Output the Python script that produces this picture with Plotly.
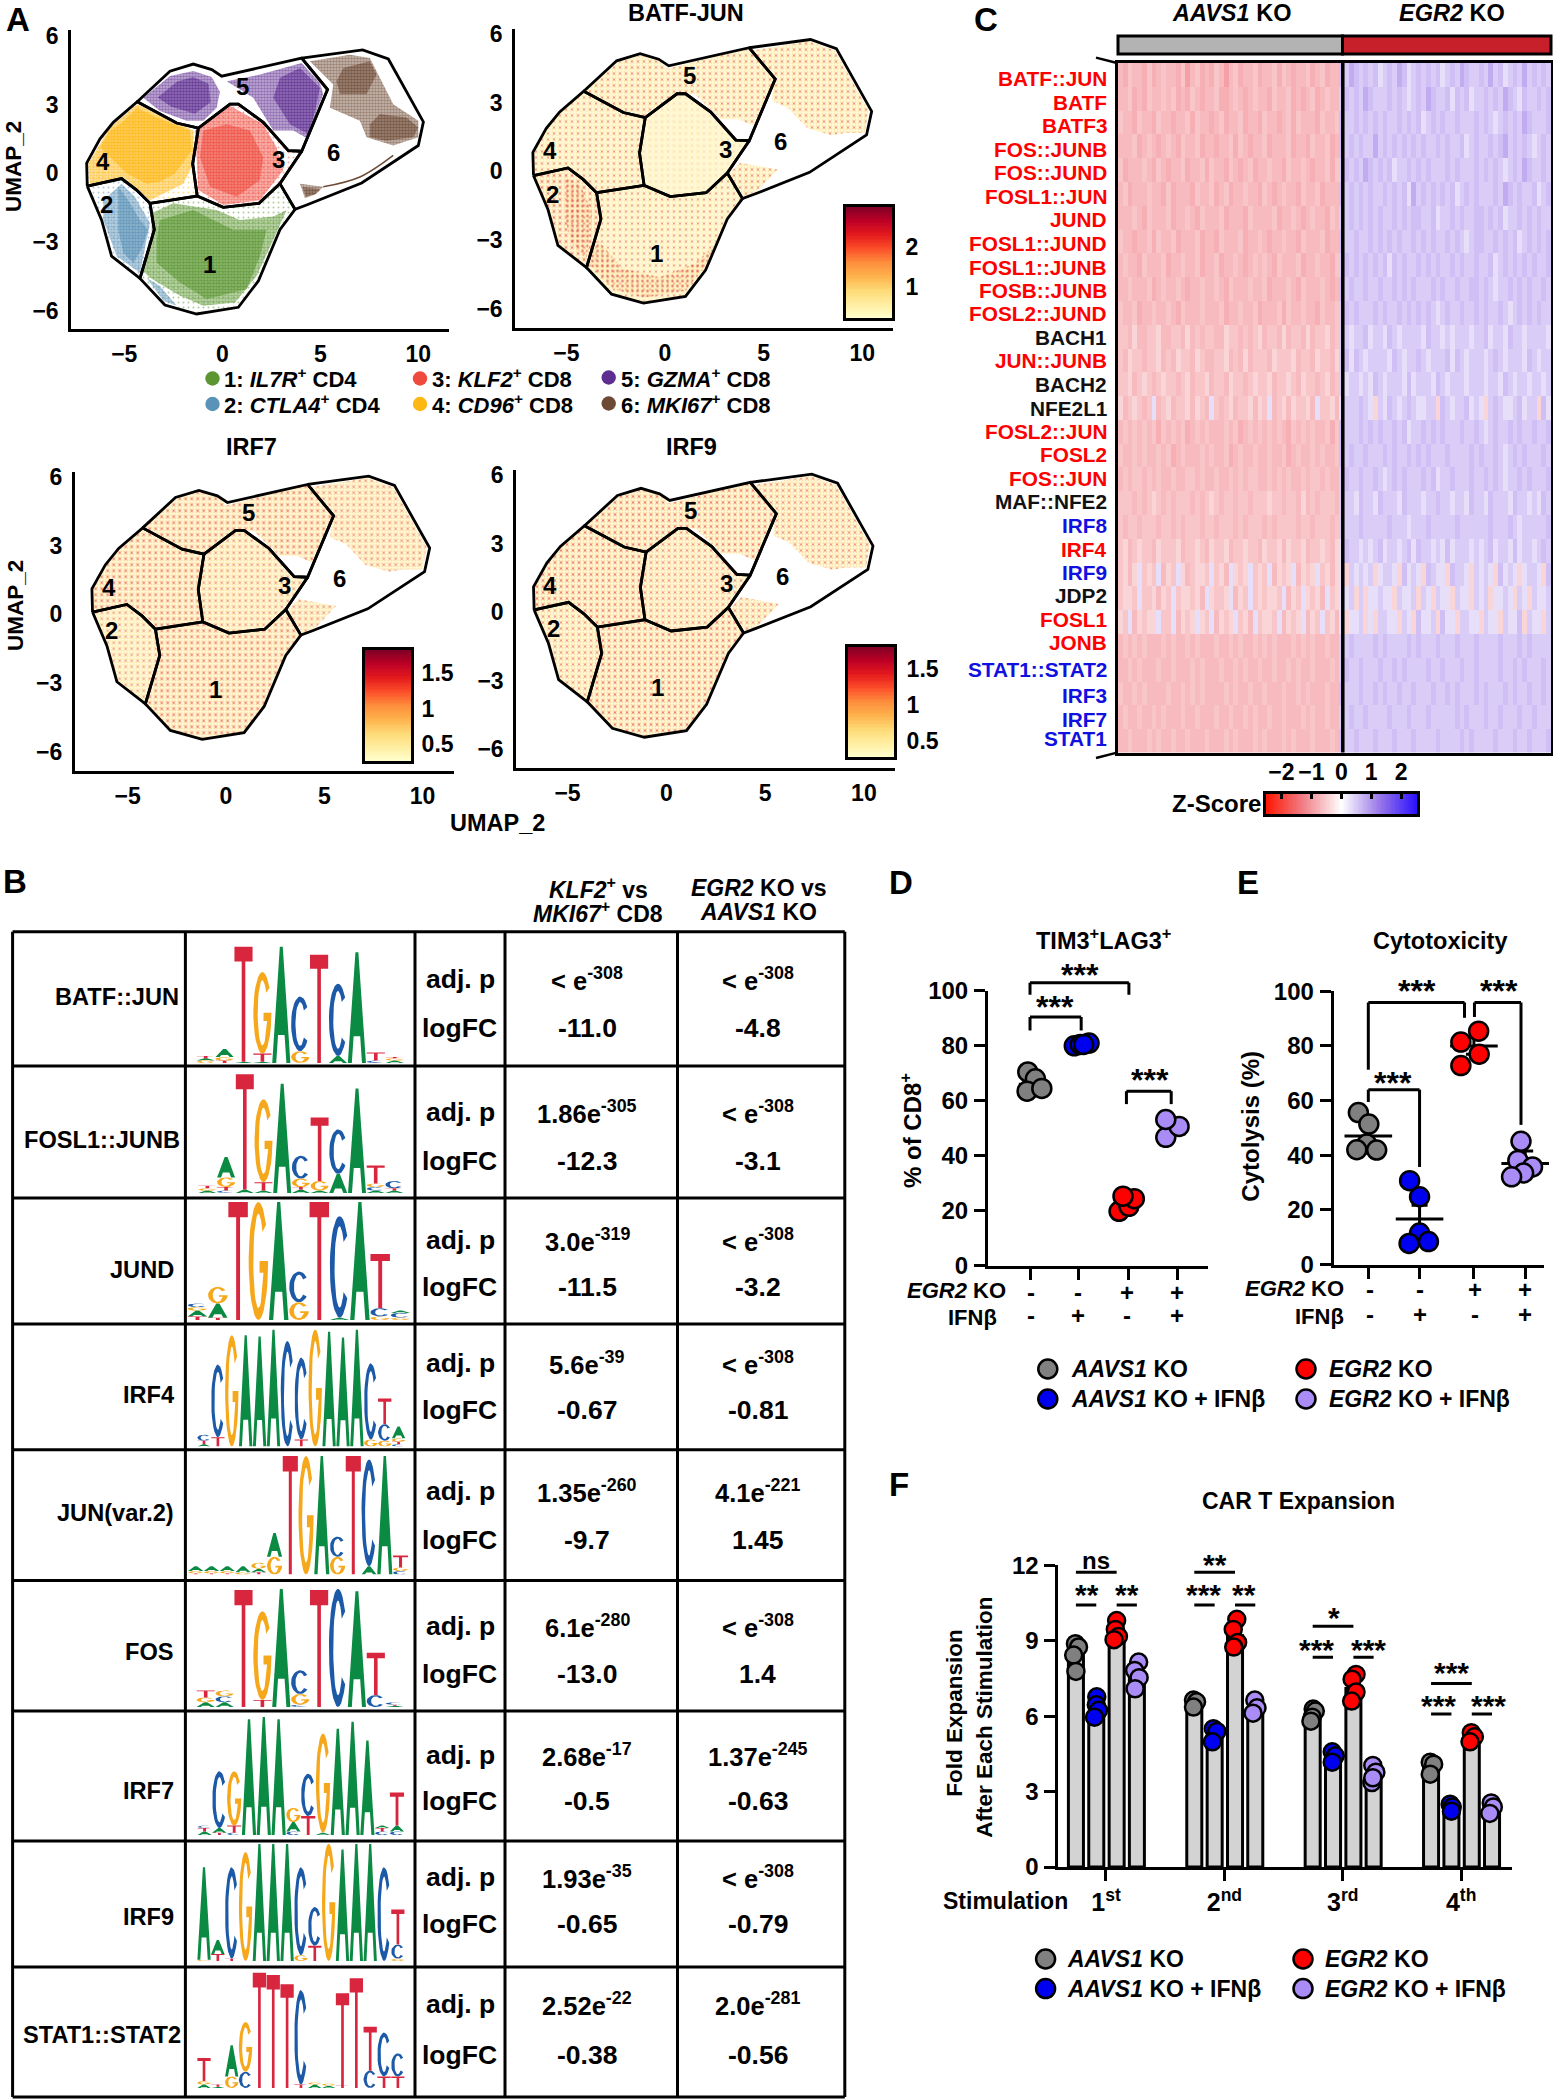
import math
import numpy as np
import plotly.graph_objects as go
from plotly.colors import sample_colorscale

W, H = 1553, 2100
FONT = "Liberation Sans"

# ---------- Panel A data (UMAP coordinates) ----------
J143 = (-3.69, -1.31); J134 = (-1.28, -0.99); J136 = (2.94, -0.45); J356 = (4.05, 0.96)
J345 = (-1.22, 1.97); J45 = (-4.34, 3.12); J56 = (4.05, 5.02); J24 = (-6.89, -0.56)
J12b = (-4.20, -4.58); J16 = (3.71, -1.57); J12m = (-3.47, -2.46)
region_1 = [J143, J134, (0.05, -1.48), (1.87, -1.31), J136, J16, (2.94, -2.46), (1.84, -4.69),
            (0.82, -5.84), (-1.31, -6.13), (-2.93, -5.74), J12b, J12m]
region_2 = [J24, (-5.14, -0.23), (-4.37, -0.73), J143, J12m, J12b, (-5.65, -3.61), (-6.16, -2.03)]
region_3 = [J345, (0.39, 3.01), (0.82, 3.01), (2.09, 2.22), (3.37, 0.99), J356, J136, (1.87, -1.31),
            (0.05, -1.48), J134, (-1.51, 0.42)]
region_4 = [J24, (-6.92, 0.45), (-6.24, 1.50), (-5.56, 2.22), J45, (-2.33, 2.19), J345, (-1.51, 0.42),
            J134, J143, (-4.37, -0.73), (-5.14, -0.23)]
region_5 = [J45, (-2.67, 4.45), (-1.48, 4.76), (-0.54, 4.52), (-0.03, 4.23), J56, (5.37, 3.65), J356,
            (3.37, 0.99), (2.09, 2.22), (0.82, 3.01), (0.39, 3.01), J345, (-2.33, 2.19)]
region_6 = [J56, (7.16, 5.38), (8.47, 4.98), (10.26, 2.24), (10.0, 1.21), (7.11, -0.42), (4.30, -1.38),
            J16, J136, J356, (5.37, 3.65)]
regions = [region_1, region_2, region_3, region_4, region_5, region_6]
region_labels = [(-0.63, -3.97), (-5.9, -1.38), (2.86, 0.59), (-6.07, 0.52), (1.02, 3.8), (5.66, 0.92)]

cloud_sparse = [
    (1, [(-3.61, -1.74), (-2.5, -1.31), (-0.29, -1.6), (0.9, -2.03), (2.6, -1.88), (3.28, -1.6), (2.6, -2.89),
         (1.75, -4.47), (0.65, -5.63), (-0.97, -5.77), (-2.16, -5.34), (-3.69, -4.55), (-4.03, -4.26), (-3.61, -2.89)]),
    (2, [(-6.07, -1.17), (-5.14, -0.45), (-4.46, -1.02), (-3.69, -2.17), (-4.03, -3.61), (-4.2, -4.33), (-5.39, -3.61), (-6.07, -2.03)]),
    (2, [(-3.86, -4.55), (-3.18, -4.91), (-2.33, -5.77), (-3.01, -5.55)]),
    (4, [(-4.34, 3.01), (-1.48, 1.86), (-1.48, 0.42), (-1.99, -0.45), (-3.69, -1.17), (-5.05, -0.16), (-6.75, -0.45), (-6.84, 0.42), (-5.73, 2.0)]),
    (3, [(0.39, 2.94), (2.09, 2.14), (2.77, 1.14), (3.11, 0.13), (1.92, -1.17), (0.05, -1.38), (-1.22, -0.73), (-1.39, 1.86)]),
    (5, [(-2.67, 4.24), (-1.48, 4.46), (-0.54, 4.2), (-0.12, 3.55), (-0.29, 2.86), (-0.97, 2.29), (-1.82, 2.29), (-3.18, 2.72), (-4.03, 3.29)]),
    (5, [(4.05, 4.81), (4.98, 3.94), (5.15, 3.44), (4.81, 2.72), (4.39, 1.5), (3.62, 1.86), (2.6, 1.86), (1.58, 3.29), (0.22, 4.01), (1.92, 4.3)]),
    (6, [(4.47, 4.88), (6.51, 5.17), (7.53, 5.02), (8.72, 3.01), (10, 2.29), (10, 1.57), (8.72, 1.21), (7.36, 1.57), (7.02, 2.29), (5.49, 2.86), (5.66, 3.87)]),
    (6, [(3.96, -0.45), (5.15, -0.59), (4.81, -0.88), (4.22, -1.09)]),
]
cloud_dense = [
    (1, [(-3.18, -2.03), (-1.48, -1.6), (0.56, -2.46), (2.26, -2.46), (1.92, -3.61), (1.24, -5.05), (-0.8, -5.48), (-2.16, -4.76), (-3.35, -3.9), (-3.35, -2.89)]),
    (2, [(-5.31, -0.59), (-4.8, -1.17), (-4.2, -2.03), (-3.78, -2.46), (-4.12, -3.32), (-4.54, -3.9), (-5.05, -3.47), (-5.31, -2.46)]),
    (4, [(-4.34, 2.86), (-3.35, 2.43), (-1.65, 1.86), (-1.56, 0.99), (-2.41, -0.01), (-3.18, -0.37), (-3.86, -0.45), (-4.88, -0.01), (-5.73, 0.71), (-6.24, 1.14), (-5.73, 1.86), (-5.22, 2.14)]),
    (3, [(0.22, 2.14), (1.41, 1.86), (2.09, 0.71), (1.92, -0.3), (0.73, -1.02), (-0.63, -0.59), (-1.14, 0.71), (-0.97, 1.86)]),
    (5, [(-2.3, 4.0), (-1.48, 4.2), (-0.7, 3.9), (-0.6, 3.1), (-1.4, 2.6), (-2.6, 2.9), (-3.3, 3.3)]),
    (5, [(3.96, 4.59), (4.98, 3.73), (4.73, 2.72), (4.39, 1.71), (3.45, 2.14), (2.6, 3.29), (2.94, 4.16)]),
    (6, [(6.17, 4.59), (7.53, 4.88), (7.87, 4.3), (7.36, 3.44), (6, 3.44), (5.83, 4.01)]),
    (6, [(8.04, 2.58), (9.4, 2.43), (10, 2), (9.74, 1.57), (8.38, 1.42), (7.53, 1.57), (7.53, 2.14)]),
    (6, [(4.1, -0.6), (5.0, -0.7), (4.7, -0.95), (4.25, -1.0)]),
]
# extent of the dots in the three activity maps, clusters 5 and 6
feature_5 = [(-4.3, 3.1), (-2.6, 4.4), (-1.5, 4.7), (-0.5, 4.5), (-0.1, 4.1), (4.0, 5.0), (5.3, 3.6), (4.3, 1.6), (3.5, 1.9),
             (2.6, 1.9), (1.3, 3.0), (0.4, 3.0), (-1.2, 2.0), (-2.3, 2.2)]
feature_6a = [(4.2, 4.9), (7.1, 5.3), (8.4, 4.9), (10.1, 2.3), (9.9, 1.3), (8.9, 1.3), (8.2, 1.2), (7.0, 1.5), (6.0, 2.4), (5.2, 2.7), (5.3, 3.6)]
feature_6b = [(3.0, -0.5), (3.6, 0.0), (5.5, -0.3), (4.5, -1.2), (3.8, -1.5)]
cluster_colors = {1: "#5B9632", 2: "#5B92B8", 3: "#EE4B3E", 4: "#FDB813", 5: "#5E2D91", 6: "#6E4A35"}
arc_x = [5.15, 7.02, 8.72]
arc_y = [-0.59, -0.16, 0.78]

batf_levels = {1: 0.95, 2: 1.5, 3: 0.7, 4: 1.05, 5: 1.2, 6: 1.25}
irf7_levels = {1: 1.0, 2: 0.8, 3: 0.9, 4: 1.0, 5: 1.0, 6: 1.0}
irf9_levels = {1: 1.0, 2: 0.9, 3: 0.95, 4: 1.0, 5: 1.0, 6: 1.0}
batf_speck = {1: 0.08, 2: 0.14, 3: 0.03, 4: 0.09, 5: 0.11, 6: 0.11}
irf7_speck = {1: 0.13, 2: 0.08, 3: 0.11, 4: 0.13, 5: 0.13, 6: 0.11}
irf9_speck = {1: 0.13, 2: 0.10, 3: 0.11, 4: 0.13, 5: 0.13, 6: 0.11}
batf_hot = [[(-4.2, -4.3), (-2.9, -5.5), (-1.3, -5.9), (0.8, -5.6), (1.84, -4.5), (2.3, -3.6), (1.3, -4.4), (-0.5, -5.0), (-2.4, -4.6), (-3.6, -3.4)],
            [(-5.3, -0.6), (-4.5, -1.0), (-3.9, -2.2), (-4.2, -4.2), (-5.0, -3.5), (-5.3, -2.3)]]

# ---------- Panel B data ----------
table_motifs = ["BATF::JUN", "FOSL1::JUNB", "JUND", "IRF4", "JUN(var.2)", "FOS", "IRF7", "IRF9", "STAT1::STAT2"]
adjp_klf2 = ["&lt; e<sup>-308</sup>", "1.86e<sup>-305</sup>", "3.0e<sup>-319</sup>", "5.6e<sup>-39</sup>", "1.35e<sup>-260</sup>",
             "6.1e<sup>-280</sup>", "2.68e<sup>-17</sup>", "1.93e<sup>-35</sup>", "2.52e<sup>-22</sup>"]
logfc_klf2 = ["-11.0", "-12.3", "-11.5", "-0.67", "-9.7", "-13.0", "-0.5", "-0.65", "-0.38"]
adjp_egr2 = ["&lt; e<sup>-308</sup>", "&lt; e<sup>-308</sup>", "&lt; e<sup>-308</sup>", "&lt; e<sup>-308</sup>", "4.1e<sup>-221</sup>",
             "&lt; e<sup>-308</sup>", "1.37e<sup>-245</sup>", "&lt; e<sup>-308</sup>", "2.0e<sup>-281</sup>"]
logfc_egr2 = ["-4.8", "-3.1", "-3.2", "-0.81", "1.45", "1.4", "-0.63", "-0.79", "-0.56"]

logo_batf_jun = [[("G",.02),("A",.02),("T",.02)], [("T",.02),("G",.03),("A",.07)], [("A",.01),("T",.99)], [("A",.01),("T",.07),("G",.70)],
                 [("A",1.0)], [("G",.10),("C",.47)], [("T",.93)], [("A",.06),("C",.62)], [("A",.95)], [("C",.02),("T",.07)], [("A",.02),("G",.02),("T",.01)]]
logo_fosl1_junb = [[("A",.02),("G",.02),("T",.02)], [("C",.02),("T",.03),("G",.08),("A",.17)], [("A",.03),("T",.96)], [("A",.02),("T",.07),("G",.69)],
                   [("A",.91)], [("A",.03),("T",.02),("G",.07),("C",.19)], [("A",.02),("G",.08),("T",.53)], [("A",.16),("C",.37)], [("A",.87)],
                   [("A",.02),("C",.03),("G",.03),("T",.15)], [("A",.02),("T",.02),("C",.06)]]
logo_jund = [[("T",.03),("A",.05),("G",.03),("C",.03)], [("T",.02),("A",.12),("G",.14)], [("T",1.0)], [("G",1.0)], [("A",1.0)], [("G",.15),("C",.26)],
             [("T",1.0)], [("A",.02),("C",.86)], [("A",1.0)], [("G",.03),("C",.07),("T",.46)], [("G",.02),("C",.04),("A",.02)]]
logo_irf4 = [[("A",.02),("T",.03),("C",.05)], [("T",.08),("C",.62)], [("G",.95)], [("A",.95)], [("A",.94)], [("A",1.0)], [("C",.9)], [("T",.06),("C",.70)],
             [("G",1.0)], [("A",.98)], [("A",.93)], [("A",1.0)], [("G",.06),("C",.65)], [("G",.05),("C",.14),("T",.22)], [("C",.02),("T",.02),("G",.03),("A",.1)]]
logo_jun_v2 = [[("T",.01),("G",.02),("A",.04)], [("T",.01),("G",.02),("A",.04)], [("T",.01),("G",.02),("A",.04)], [("G",.02),("A",.05)],
               [("T",.02),("A",.03),("G",.05)], [("G",.15),("A",.2)], [("T",1.0)], [("G",1.0)], [("A",1.0)], [("G",.15),("C",.17)], [("T",1.0)],
               [("A",.07),("C",.9)], [("A",1.0)], [("C",.03),("G",.03),("T",.1)]]
logo_fos = [[("A",.04),("G",.04),("T",.06)], [("A",.04),("C",.05),("G",.05)], [("T",.99)], [("T",.06),("G",.75)], [("A",1.0)], [("C",.02),("G",.09),("C",.2)],
            [("T",.99)], [("C",1.0)], [("A",.98)], [("C",.1),("T",.36)], [("A",.01),("T",.01),("C",.02)]]
logo_irf7 = [[("A",.03),("T",.03),("C",.02)], [("T",.02),("A",.04),("C",.48)], [("C",.02),("T",.06),("G",.46)], [("A",.98)], [("A",1.0)], [("A",.98)],
             [("C",.03),("A",.08),("G",.12)], [("T",.16),("C",.36)], [("A",.02),("G",.84)], [("A",.9)], [("A",.96)], [("A",.8)], [("C",.03),("T",.03),("A",.02)],
             [("C",.03),("A",.05),("T",.28)]]
logo_irf9 = [[("G",.01),("A",.79)], [("T",.06),("A",.12)], [("T",.02),("C",.78)], [("G",.93)], [("A",1.0)], [("A",1.0)], [("A",1.0)], [("G",.05),("C",.75)],
             [("T",.13),("C",.33)], [("G",1.0)], [("A",.95)], [("A",1.0)], [("A",1.0)], [("C",.8)], [("G",.02),("C",.12),("T",.3)]]
logo_stat = [[("A",.03),("G",.03),("T",.2)], [("A",.01),("T",.02)], [("G",.1),("A",.27)], [("C",.14),("G",.43)], [("T",1.0)], [("T",.98)], [("T",.9)],
             [("T",.03),("C",.82)], [("A",.03),("G",.02)], [("A",.02),("G",.02)], [("T",.02),("T",.8)], [("T",.95)], [("C",.15),("T",.38)], [("T",.1),("C",.38)], [("T",.1),("C",.2)]]
logos = [logo_batf_jun, logo_fosl1_junb, logo_jund, logo_irf4, logo_jun_v2, logo_fos, logo_irf7, logo_irf9, logo_stat]
letter_colors = {"A": "#0B8A43", "C": "#1C5AA8", "G": "#F5A81C", "T": "#D7263D"}

# ---------- Panel C data ----------
motif_names = ["BATF::JUN", "BATF", "BATF3", "FOS::JUNB", "FOS::JUND", "FOSL1::JUN", "JUND", "FOSL1::JUND", "FOSL1::JUNB", "FOSB::JUNB",
               "FOSL2::JUND", "BACH1", "JUN::JUNB", "BACH2", "NFE2L1", "FOSL2::JUN", "FOSL2", "FOS::JUN", "MAF::NFE2", "IRF8", "IRF4", "IRF9",
               "JDP2", "FOSL1", "JONB", "STAT1::STAT2", "IRF3", "IRF7", "STAT1"]
motif_colors = list("rrrrrrrrrrrkrkkrrrkbrbkrrbbbb")
# one digit per stripe; heat_levels gives the z-score of each digit
heat_levels = [-0.95, -0.8, -0.68, -0.58, -0.42, 0.3, 0.48, 0.6, 0.78, 0.92]
heat_rows = """2132213123 2213023121 3202312231 2231321223 123122 7687676756 7687567676 7567687667 6867567686 7676
2231213223 2312132122 3112321232 2132231212 312322 6767687666 7676567687 6675767566 7676876576 6767
3221322132 2122313221 2312231221 3221231322 213223 7667676767 6676767567 6766766676 7656767687 6667
2223123212 3213223122 1223132122 3122231221 322312 7676766867 6767676766 7676675676 6767867676 5676
3122232132 1223122313 2213212312 2322132232 122313 6767687676 7566767676 6676766676 7676567687 6676
2312223221 3122213223 1231223221 3212322132 231222 7676767667 6767586767 6767567676 6676876766 7567
2223213222 3122321322 2312221322 2231223212 322132 6676767676 6767677667 5667676677 6767566767 6766
3221223132 2312223122 1322231223 2122322132 223122 7667667676 7676676767 6676765677 6676767567 6767
2322132223 1223223122 3122321232 3213222312 232213 6767676767 5767667676 7667676676 6756767676 7667
2232223123 2232122322 3213222322 3122232132 223212 7676676676 6767676667 6766766776 7656676767 6676
3223122322 3213222322 2312232231 2223132232 213223 6767666767 6676767676 5676676676 7667656767 6766
3324223342 2332423233 2243323234 2332423324 233423 6656675665 7656666576 6565666566 7566576656 6665
3243323342 3243324322 3342324233 3243334233 243324 6757656666 5765667656 6675765666 5676566657 6566
3342343234 3323423342 3324332343 3423343243 323423 6566565765 6665756665 7656665666 5665765665 6656
4234323523 4233424325 3234233424 3523424334 253342 5666765465 7656765566 4765667565 4676556756 6475
2323232313 2323123232 2232312323 2323213232 322313 7666767676 6767566767 6766676676 5676676766 7667
3223232232 3123222323 2231232232 2322312322 323223 7676676667 6766767676 6676666767 6676567676 6676
2323323232 2322332322 3223232332 2323232232 332322 6766766765 6767666767 5667666766 7676566767 6667
3332323432 3233323234 3233233233 3433233242 323332 6665766576 6657666566 7665665766 5766657665 6576
3233233323 3232333233 2333232333 2323333233 233323 6666766666 7666566676 6666766666 6766676566 6667
3423433243 3342334324 3342334332 4334243342 334324 5766565675 6656757665 6575666565 6756657566 5676
3424534352 4354234435 3425434534 3524345243 453424 5465656456 6547565476 5547665465 6547565456 6547
3443533424 3534434254 3345243534 3443524354 342534 5564645565 5465564654 6554655465 6455654654 6556
4352434453 3524345435 2434534253 4435243452 435342 5455645466 5546547556 4755466554 6554655746 5546
2323232223 2322323222 3223232232 3232223232 322322 6676666767 6666767666 7666766676 6667666767 6666
2232322232 2322232322 2322323223 2232232322 322232 6766766676 6767666676 6766676676 6667667676 6676
3223232222 3223232322 2232322322 3222322323 222322 7666766767 6676676667 6676766676 7666767667 6676
2322322323 2223223222 3223223232 2322322232 322322 6676676666 7666766676 6666767666 7667666766 7666
2232223232 2322322232 2232322232 3222323222 322232 7667666766 6766676666 7666676766 6676667667 6667""".split("\n")

# ---------- Panels D, E data ----------
cond_names = ["<i>AAVS1</i> KO", "<i>AAVS1</i> KO + IFNβ", "<i>EGR2</i> KO", "<i>EGR2</i> KO + IFNβ"]
cond_colors = ["#808080", "#0000F0", "#FF0000", "#A98CF5"]
egr2_signs = ["-", "-", "+", "+"]
ifn_signs = ["-", "+", "-", "+"]
d_ticks = [1, 1.99, 3.01, 4]
d_x = [[0.955, 1.11, 0.94, 1.24], [1.9, 2.02, 2.2, 2.09], [2.81, 3.01, 3.12, 2.89], [3.76, 4.03, 3.76]]
d_y = [[70.5, 68, 63.5, 64.5], [80, 80.5, 81, 80.5], [19.8, 21.6, 24.4, 25.3], [46.7, 50.7, 53.2]]
d_mean = [66, 80.5, 22.5, 50]
d_sem = [1.6, 0.3, 1.3, 2.0]
e_ticks = [1, 1.98, 3.02, 4]
e_x = [[0.81, 1.01, 0.97, 0.78, 1.16], [1.79, 1.98, 1.98, 1.78, 2.15], [3.11, 2.77, 3.12, 2.77], [3.92, 3.86, 4.14, 3.97, 3.74]]
e_y = [[55.6, 51.4, 44.1, 42, 41.9], [30.7, 24.8, 11.5, 7.7, 8.4], [85.4, 81.4, 77, 72.8], [45.1, 38.1, 35.7, 33.5, 32.1]]
e_mean = [47, 16.7, 80, 37]
e_sem = [3, 5, 3, 4.5]
d_brackets = [([1, 1, 3.01, 3.01], [98.6, 103, 103, 98.6], 2.015, 106.5),
              ([1, 1, 2.04, 2.04], [85.6, 90.5, 90.5, 85.6], 1.5, 95),
              ([2.96, 2.96, 3.87, 3.87], [58.8, 63.5, 63.5, 58.8], 3.44, 68.2)]
e_brackets = [([1, 1, 2.84, 2.84], [71.3, 95.9, 95.9, 90.3], 1.94, 100.7),
              ([3.03, 3.03, 3.92, 3.92], [90.6, 95.9, 95.9, 51.1], 3.49, 100.7),
              ([1, 1, 1.98, 1.98], [59.5, 64, 64, 35.7], 1.47, 67.1)]

# ---------- Panel F data ----------
stim_labels = ["1<sup>st</sup>", "2<sup>nd</sup>", "3<sup>rd</sup>", "4<sup>th</sup>"]
f_offsets = [-0.254, -0.082, 0.09, 0.261]
f_bars = [[8.4, 6.5, 6.0, 4.0], [6.1, 5.2, 4.3, 2.3], [9.2, 9.2, 7.1, 5.15], [7.5, 6.3, 3.7, 2.3]]
f_vals = [[[8.88, 8.75, 8.43, 7.78], [6.64, 6.57, 6.36], [6.28, 6.2, 5.96, 5.8], [4.17, 4.09, 3.69]],
          [[6.77, 6.45, 6.23, 5.96], [5.5, 5.39, 4.98], [4.58, 4.42, 4.17], [2.5, 2.39, 2.22]],
          [[9.8, 9.45, 9.17, 9.04], [9.85, 9.45, 8.93, 8.75], [7.66, 7.47, 6.96, 6.6], [5.34, 5.18, 4.98]],
          [[8.15, 7.82, 7.53, 7.09], [6.64, 6.33, 6.12], [4.04, 3.77, 3.36, 3.55], [2.55, 2.39, 2.13]]]
f_jit = [[[-.004, .022, -.019, 0], [-.007, .019, -.007], [.004, .022, -.004, -.015], [-.007, .022, -.007]],
         [[.004, 0, .019, -.015], [-.011, .019, -.019], [-.007, .019, -.007], [-.011, .007, 0]],
         [[0, -.011, .015, -.022], [.015, -.015, .022, -.011], [.022, -.011, .022, -.015], [-.004, .022, -.015]],
         [[.015, -.019, .019, -.015], [-.004, .015, -.019], [-.007, .019, -.015, -.007], [-.007, .011, -.019]]]
# group, first bar, last bar, line height, label, label x, label y
f_sig = [(1, 0, 2, 11.72, "ns", .918, 12.2), (1, 0, 1, 10.42, "**", .836, 10.9), (1, 2, 3, 10.42, "**", 1.179, 10.9),
         (2, 0, 2, 11.72, "**", 1.92, 12.1), (2, 0, 1, 10.42, "***", 1.82, 10.9), (2, 2, 3, 10.42, "**", 2.17, 10.9),
         (3, 0, 2, 9.58, "*", 2.93, 10.0), (3, 0, 1, 8.34, "***", 2.78, 8.75), (3, 2, 3, 8.34, "***", 3.22, 8.75),
         (4, 0, 2, 7.3, "***", 3.92, 7.8), (4, 0, 1, 6.09, "***", 3.81, 6.5), (4, 2, 3, 6.09, "***", 4.23, 6.5)]

# ---------- helpers ----------
fig = go.Figure()
layout = {}
annotations = []
shapes = []
axis_count = [0]


def px_x(p):
    return p / W


def px_y(p):
    return 1 - p / H


def new_axes(left, right, top, bottom, xopts=None, yopts=None):
    axis_count[0] += 1
    n = axis_count[0]
    sx = "" if n == 1 else str(n)
    xo = dict(domain=[px_x(left), px_x(right)], anchor="y" + sx, showgrid=False, zeroline=False, visible=True,
              showticklabels=False, ticks="", showline=False)
    yo = dict(domain=[px_y(bottom), px_y(top)], anchor="x" + sx, showgrid=False, zeroline=False, visible=True,
              showticklabels=False, ticks="", showline=False)
    xo.update(xopts or {})
    yo.update(yopts or {})
    layout["xaxis" + sx] = xo
    layout["yaxis" + sx] = yo
    return "x" + sx, "y" + sx


def text(x, y, s, size=20, anchor="center", color="black", angle=0, bold=True, xref="paper", yref="paper", yshift=0):
    annotations.append(dict(x=x, y=y, xref=xref, yref=yref, text=s, showarrow=False, xanchor=anchor, yanchor="middle",
                            textangle=angle, yshift=yshift,
                            font=dict(family=FONT, size=size, color=color, weight="bold" if bold else "normal")))


def ptext(x, y, s, size=20, anchor="center", color="black", angle=0, bold=True, yshift=0):
    nudge = {"right": 3, "left": -3, "center": 0}[anchor]
    text(px_x(x + nudge), px_y(y), s, size, anchor, color, angle, bold, yshift=yshift)


def pline(x0, y0, x1, y1, width=3, color="black"):
    shapes.append(dict(type="line", xref="paper", yref="paper", x0=px_x(x0), x1=px_x(x1), y0=px_y(y0), y1=px_y(y1),
                       line=dict(color=color, width=width), layer="above"))


def prect(x0, y0, x1, y1, fill, width=2.5):
    shapes.append(dict(type="rect", xref="paper", yref="paper", x0=px_x(x0), x1=px_x(x1), y0=px_y(y0), y1=px_y(y1),
                       fillcolor=fill, line=dict(color="black", width=width), layer="above"))


def pdot(x, y, r, fill, width=2.5):
    shapes.append(dict(type="circle", xref="paper", yref="paper", x0=px_x(x - r), x1=px_x(x + r), y0=px_y(y - r), y1=px_y(y + r),
                       fillcolor=fill, line=dict(color="black", width=width), layer="above"))


def closed(poly, dx=0, dy=0):
    return [p[0] + dx for p in poly] + [poly[0][0] + dx], [p[1] + dy for p in poly] + [poly[0][1] + dy]


def patch(poly, xa, ya, fg, bg, size, solidity, dx=0, dy=0):
    xs, ys = closed(poly, dx, dy)
    fig.add_trace(go.Scatter(x=xs, y=ys, xaxis=xa, yaxis=ya, mode="lines", line=dict(width=0), fill="toself", hoverinfo="skip",
                             fillpattern=dict(shape=".", fgcolor=fg, bgcolor=bg, size=size, solidity=solidity), showlegend=False))


def level_color(level, lo, hi):
    return sample_colorscale("YlOrRd", [max(0, min(1, (level - lo) / (hi - lo)))])[0]


def tint(hex_color, alpha):
    r, g, b = int(hex_color[1:3], 16), int(hex_color[3:5], 16), int(hex_color[5:7], 16)
    return f"rgba({r},{g},{b},{alpha})"


def color_ramp(left, right, top, bottom, lo, hi, tickvals, ticktext, standoff):
    xa, ya = new_axes(left, right, top, bottom,
                      dict(showline=True, mirror=True, linewidth=3, linecolor="black", range=[0, 1]),
                      dict(showline=True, mirror=True, linewidth=3, linecolor="black", range=[lo, hi], side="right",
                           showticklabels=True, tickvals=tickvals, ticktext=ticktext, ticklabelstandoff=standoff,
                           tickfont=dict(family=FONT, size=23, weight="bold", color="black")))
    zvals = np.linspace(lo, hi, 80)
    fig.add_trace(go.Heatmap(x=[0, 1], y=zvals, z=[[v, v] for v in zvals], xaxis=xa, yaxis=ya, colorscale="YlOrRd", zmin=lo, zmax=hi,
                             showscale=False, hoverinfo="skip"))


# ---------- Panel A ----------
panels = [("", 71, 449, 329, 30, 222.3, 19.6, 173.3, 22.95, 0, 0),
          ("BATF-JUN", 515, 893, 327.5, 28.5, 665, 19.72, 171.4, 22.9, 0.22, 0.38),
          ("IRF7", 74.7, 453.8, 770.7, 471.7, 226, 19.66, 614.3, 22.86, 0.1, 0.66),
          ("IRF9", 516, 894.7, 768, 469.5, 666.3, 19.76, 612.2, 22.86, 0.2, 0.66)]
tf = dict(family=FONT, size=23, weight="bold", color="black")
for name, l, r, b, t, x0, sx, y0, sy, dx, dy in panels:
    xa, ya = new_axes(l, r, t, b,
                      dict(range=[(l - x0) / sx, (r - x0) / sx], showline=True, linecolor="black", linewidth=2.5, showticklabels=True,
                           tickvals=[-5, 0, 5, 10], tickfont=tf, ticklabelstandoff=3),
                      dict(range=[(y0 - b) / sy, (y0 - t) / sy], showline=True, linecolor="black", linewidth=2.5, showticklabels=True,
                           tickvals=[-6, -3, 0, 3, 6], tickfont=tf, ticklabelstandoff=5))
    if name == "":
        for cid, reg in enumerate(regions[:4], start=1):
            patch(reg, xa, ya, cluster_colors[cid], "rgba(255,255,255,0)", 5, 0.12)
        for cid, poly in cloud_sparse:
            patch(poly, xa, ya, cluster_colors[cid], tint(cluster_colors[cid], 0.36), 3, 0.6)
        for cid, poly in cloud_dense:
            patch(poly, xa, ya, cluster_colors[cid], tint(cluster_colors[cid], 0.42), 3, 0.65)
        fig.add_trace(go.Scatter(x=arc_x, y=arc_y, xaxis=xa, yaxis=ya, mode="lines", line=dict(color=cluster_colors[6], width=1.5, shape="spline"),
                                 hoverinfo="skip", showlegend=False))
    else:
        levels = {"BATF-JUN": batf_levels, "IRF7": irf7_levels, "IRF9": irf9_levels}[name]
        speck = {"BATF-JUN": batf_speck, "IRF7": irf7_speck, "IRF9": irf9_speck}[name]
        hi = 3.0 if name == "BATF-JUN" else 1.83
        lo = 0.22 if name == "BATF-JUN" else 0.26
        areas = [(1, region_1), (2, region_2), (3, region_3), (4, region_4), (5, feature_5), (6, feature_6a), (6, feature_6b)]
        for cid, poly in areas:
            patch(poly, xa, ya, level_color(levels[cid], lo, hi), "#FFF8D6", 3, 0.22, dx, dy)
            patch(poly, xa, ya, level_color(hi * 0.8, lo, hi), "rgba(255,255,255,0)", 6, speck[cid], dx, dy)
        if name == "BATF-JUN":
            for poly in batf_hot:
                patch(poly, xa, ya, level_color(2.6, lo, hi), "rgba(255,225,160,0.35)", 5, 0.2, dx, dy)
    for reg in regions:
        xs, ys = closed(reg, dx, dy)
        fig.add_trace(go.Scatter(x=xs, y=ys, xaxis=xa, yaxis=ya, mode="lines", line=dict(color="black", width=2.8), hoverinfo="skip", showlegend=False))
    for i, (lx, ly) in enumerate(region_labels):
        text(lx + dx, ly + dy, str(i + 1), size=24, xref=xa, yref=ya)

ptext(686, 13, "BATF-JUN", 23.5)
ptext(251, 447, "IRF7", 23.5)
ptext(691, 447, "IRF9", 23.5)
ptext(497, 823, "UMAP_2", 23.5)
ptext(13, 167, "UMAP_2", 22.5, angle=-90)
ptext(15, 606, "UMAP_2", 22.5, angle=-90)
ptext(18, 19, "A", 33)

legend_a = [("1: <i>IL7R</i><sup>+</sup> CD4", 1, 212.5, 225, 378.5), ("2: <i>CTLA4</i><sup>+</sup> CD4", 2, 212.5, 225, 404),
            ("3: <i>KLF2</i><sup>+</sup> CD8", 3, 420, 433, 378.5), ("4: <i>CD96</i><sup>+</sup> CD8", 4, 420, 433, 404),
            ("5: <i>GZMA</i><sup>+</sup> CD8", 5, 608.7, 621.5, 377.5), ("6: <i>MKI67</i><sup>+</sup> CD8", 6, 608.7, 621.5, 403.5)]
for s, cid, mx, tx, ty in legend_a:
    pdot(mx, ty, 7.2, cluster_colors[cid], 0)
    ptext(tx, ty, s, 22, "left")

color_ramp(845.7, 892, 207, 318, 0.22, 3.0, [1, 2], ["1", "2"], 6)
color_ramp(365, 411, 650, 761, 0.26, 1.83, [0.5, 1, 1.5], ["0.5", "1", "1.5"], 3)
color_ramp(848, 894, 647, 757, 0.27, 1.81, [0.5, 1, 1.5], ["0.5", "1", "1.5"], 5)

# ---------- Panel B ----------
ptext(15, 882, "B", 33)
col_x = [12.6, 185.4, 415, 505, 677.5, 844.8]
row_y = [931.8, 1066, 1198, 1324, 1449.8, 1580.4, 1711, 1841, 1967, 2097]
for xv in col_x:
    pline(xv, row_y[0], xv, row_y[-1], 3)
for yv in row_y:
    pline(col_x[0], yv, col_x[-1], yv, 3)
ptext(598, 888, "<i>KLF2</i><sup>+</sup> vs", 23)
ptext(598, 912, "<i>MKI67</i><sup>+</sup> CD8", 23)
ptext(758.6, 888, "<i>EGR2</i> KO vs", 23)
ptext(758.6, 912, "<i>AAVS1</i> KO", 23)
motif_right = [178, 179, 173, 173, 173, 173, 173, 173, 180]
motif_y = [997, 1139.6, 1270, 1395, 1512.6, 1652, 1791, 1917, 2035]
adj_y = [979, 1112, 1240, 1363, 1491, 1625.5, 1754.5, 1877, 2004]
log_y = [1028, 1161, 1286.5, 1410, 1540, 1674, 1801, 1924, 2055]
for i in range(9):
    ptext(motif_right[i], motif_y[i], table_motifs[i], 23.6, "right")
    ptext(461, adj_y[i], "adj. p", 26.5)
    ptext(459, log_y[i], "logFC", 26.5)
    ptext(587, adj_y[i], adjp_klf2[i], 25.5)
    ptext(587, log_y[i], logfc_klf2[i], 26.5)
    ptext(757.6, adj_y[i], adjp_egr2[i], 25.5)
    ptext(757.6, log_y[i], logfc_egr2[i], 26.5)


# letter shapes in a unit box
def arc(rx, ry, a0, a1, n=28):
    return [(0.5 + rx * math.cos(math.radians(a)), 0.5 + ry * math.sin(math.radians(a))) for a in np.linspace(a0, a1, n)]


glyphs = {
    "T": [[(0, 1), (1, 1), (1, .87), (.6, .87), (.6, 0), (.4, 0), (.4, .87), (0, .87)]],
    "A": [[(0, 0), (.42, 1), (.58, 1), (1, 0), (.78, 0), (.68, .24), (.32, .24), (.22, 0)], [(.38, .46), (.5, .8), (.62, .46)]],
    "C": [arc(.5, .5, 38, 322) + arc(.26, .4, 322, 38)],
    "G": [arc(.5, .5, 38, 350) + [(1, .44), (1, .5), (.56, .5), (.56, .4), (.76, .4)] + arc(.26, .4, 320, 38)],
}
logo_geom = [(205.7, 18.9, 946.5, 1062.9), (207.4, 18.7, 1073, 1193), (197.5, 20.3, 1202, 1320), (204, 13.9, 1329.4, 1446.5),
             (195.8, 15.75, 1456, 1574.6), (205.7, 18.9, 1588.8, 1707), (204.6, 14.8, 1717, 1835), (204, 13.85, 1843.7, 1961), (204, 13.85, 1972.6, 2088)]
for logo, (x1, sp, top, base) in zip(logos, logo_geom):
    n = len(logo)
    xa, ya = new_axes(x1 - sp / 2, x1 + sp * (n - 0.5), top, base, dict(range=[0.5, n + 0.5], visible=False), dict(range=[0, 1], visible=False))
    paths = {k: ([], []) for k in letter_colors}
    for pos, stack in enumerate(logo, start=1):
        bottom = 0.0
        for letter, height in stack:
            for ring in glyphs[letter]:
                px_, py_ = paths[letter]
                px_ += [pos - 0.48 + gx * 0.96 for gx, gy in ring] + [pos - 0.48 + ring[0][0] * 0.96, None]
                py_ += [bottom + gy * height for gx, gy in ring] + [bottom + ring[0][1] * height, None]
            bottom += height
    for letter, (pxs, pys) in paths.items():
        fig.add_trace(go.Scatter(x=pxs, y=pys, xaxis=xa, yaxis=ya, mode="lines", line=dict(width=0), fill="toself", fillcolor=letter_colors[letter],
                                 hoverinfo="skip", showlegend=False))

# ---------- Panel C ----------
ptext(985.7, 19, "C", 33)
ptext(1231.6, 13, "<i>AAVS1</i> KO", 23.5)
ptext(1451.7, 13, "<i>EGR2</i> KO", 23.5)
prect(1118, 36, 1342.5, 54, "#B3B3B3", 3)
prect(1342.5, 36, 1551, 54, "#C8202A", 3)
z_rows = [[heat_levels[int(c)] for c in row.replace(" ", "")] for row in heat_rows]
heat_scale = [[0, "#FF1400"], [0.25, "#F08088"], [0.5, "#FFFFFF"], [0.75, "#9A78E8"], [1, "#2A10FF"]]
xa, ya = new_axes(1118, 1551, 63, 752.6, dict(showline=True, mirror=True, linewidth=3, linecolor="black", range=[-0.5, 89.5]),
                  dict(showline=True, mirror=True, linewidth=3, linecolor="black", autorange="reversed", type="category"))
fig.add_trace(go.Heatmap(z=z_rows, y=motif_names, xaxis=xa, yaxis=ya, colorscale=heat_scale, zmin=-2.53, zmax=2.53, showscale=False, hoverinfo="skip"))
pline(1342.8, 63, 1342.8, 752.6, 3.5)
pline(1096, 57.6, 1117, 63, 2.5)
pline(1096, 758, 1117, 752.6, 2.5)
motif_label_y = [78.4, 102.6, 125.6, 149.2, 172.8, 196.4, 220, 243.6, 267.1, 290.2, 313.8, 337.4, 360.9, 384.5, 408.1, 431.7, 454.7, 478.3,
                 501.9, 525.5, 549.1, 572.1, 595.7, 619.3, 642.9, 669.2, 695.6, 719.1, 738.9]
cmap = {"r": "#FF0000", "k": "#111111", "b": "#1010E0"}
for name, c, yy in zip(motif_names, motif_colors, motif_label_y):
    ptext(1106.4, yy, name, 20.8, "right", cmap[c])
ramp = np.linspace(-2.53, 2.53, 120)
xa, ya = new_axes(1265.6, 1417, 794, 814,
                  dict(range=[-2.53, 2.53], side="top", showticklabels=True, tickvals=[-2, -1, 0, 1, 2], ticks="inside", ticklen=5, tickwidth=3,
                       tickcolor="black", tickfont=dict(family=FONT, size=23, weight="bold", color="black"), showline=True, mirror=True,
                       linewidth=3, linecolor="black", ticklabelstandoff=2),
                  dict(range=[0, 1], showline=True, mirror=True, linewidth=3, linecolor="black"))
fig.add_trace(go.Heatmap(x=ramp, y=[0, 1], z=[list(ramp), list(ramp)], xaxis=xa, yaxis=ya, colorscale=heat_scale, zmin=-2.53, zmax=2.53,
                         showscale=False, hoverinfo="skip"))
ptext(1260, 803.6, "Z-Score", 24, "right")


# ---------- Panels D, E ----------
def dot_panel(left, right, top, bottom, ticks, xs, ys, means, sems, brackets, xleft, xright, tick_label, mean_size):
    xa, ya = new_axes(left, right, top, bottom,
                      dict(range=[xleft, xright], showline=True, linewidth=3, linecolor="black", ticks="outside", ticklen=11, tickwidth=3,
                           tickcolor="black", tickvals=ticks),
                      dict(range=[0, 100], showline=True, linewidth=3, linecolor="black", ticks="outside", ticklen=11, tickwidth=3, tickcolor="black",
                           tickvals=[0, 20, 40, 60, 80, 100], showticklabels=True, tickfont=tick_label, ticklabelstandoff=1))

    def to_x(v):
        return left + (v - xleft) / (xright - xleft) * (right - left)

    def to_y(v):
        return bottom - v / 100 * (bottom - top)

    for bx, by, sx_, sy_ in brackets:
        for k in range(3):
            pline(to_x(bx[k]), to_y(by[k]), to_x(bx[k + 1]), to_y(by[k + 1]), 3)
        ptext(to_x(sx_), to_y(sy_), "***", 32, yshift=-2)
    for i in range(4):
        fig.add_trace(go.Scatter(x=[ticks[i]], y=[means[i]], xaxis=xa, yaxis=ya, mode="markers", hoverinfo="skip", showlegend=False, cliponaxis=False,
                                 marker=dict(symbol="line-ew", size=mean_size, line=dict(color="black", width=3)),
                                 error_y=dict(type="data", array=[sems[i]], color="black", thickness=3, width=8)))
        fig.add_trace(go.Scatter(x=xs[i], y=ys[i], xaxis=xa, yaxis=ya, mode="markers", hoverinfo="skip", showlegend=False, cliponaxis=False,
                                 marker=dict(size=19, color=cond_colors[i], line=dict(color="black", width=2.5))))


big = dict(family=FONT, size=24, weight="bold", color="black")
dot_panel(988, 1208, 990.9, 1265.7, d_ticks, d_x, d_y, d_mean, d_sem, d_brackets, 0.146, 4.618, big, 16)
dot_panel(1333.7, 1544, 991.3, 1264.5, e_ticks, e_x, e_y, e_mean, e_sem, e_brackets, 0.338, 4.36, big, 34)
ptext(901, 883, "D", 33)
ptext(1247.5, 883, "E", 33)
ptext(1103, 938.5, "TIM3<sup>+</sup>LAG3<sup>+</sup>", 23.5)
ptext(1440, 941.5, "Cytotoxicity", 23.5)
ptext(911, 1130, "% of CD8<sup>+</sup>", 24, angle=-90)
ptext(1251, 1126.7, "Cytolysis (%)", 24, angle=-90)
ptext(1005, 1290.5, "<i>EGR2</i> KO", 22, "right")
ptext(996, 1317, "IFNβ", 22, "right")
ptext(1343.4, 1288.6, "<i>EGR2</i> KO", 22, "right")
ptext(1343.4, 1316.6, "IFNβ", 22, "right")
for xp, a, b_ in zip([1031, 1078, 1127.3, 1177], egr2_signs, ifn_signs):
    ptext(xp, 1292.5, a, 24)
    ptext(xp, 1315, b_, 24)
for xp, a, b_ in zip([1369.5, 1419.5, 1475, 1525], egr2_signs, ifn_signs):
    ptext(xp, 1289.4, a, 24)
    ptext(xp, 1314, b_, 24)


def legend4(mx1, tx1, mx2, tx2, y1, y2):
    spots = [(mx1, tx1, y1), (mx1, tx1, y2), (mx2, tx2, y1), (mx2, tx2, y2)]
    for (mx, tx, yy), s, c in zip(spots, cond_names, cond_colors):
        pdot(mx, yy, 9.5, c, 2.5)
        ptext(tx + 2, yy, s, 23, "left")


legend4(1047.8, 1070, 1306, 1327.5, 1369, 1399)

# ---------- Panel F ----------
F_L, F_R, F_T, F_B = 1058.4, 1511.8, 1565.3, 1867
F_X0, F_X1 = 0.598, 4.428
xa, ya = new_axes(F_L, F_R, F_T, F_B,
                  dict(range=[F_X0, F_X1], showline=True, linewidth=3, linecolor="black", ticks="outside", ticklen=11, tickwidth=3, tickcolor="black",
                       tickvals=[1, 2, 3, 4], ticktext=stim_labels, showticklabels=True, tickfont=dict(family=FONT, size=25, weight="bold", color="black"),
                       ticklabelstandoff=0),
                  dict(range=[0, 12], showline=True, linewidth=3, linecolor="black", ticks="outside", ticklen=11, tickwidth=3, tickcolor="black",
                       tickvals=[0, 3, 6, 9, 12], showticklabels=True, tickfont=big, ticklabelstandoff=1))
for s in range(4):
    fig.add_trace(go.Bar(x=[g + f_offsets[s] for g in [1, 2, 3, 4]], y=f_bars[s], width=0.127, xaxis=xa, yaxis=ya, hoverinfo="skip", showlegend=False,
                         marker=dict(color="#D3D3D3", line=dict(color="black", width=3))))
for s in range(4):
    mx, my = [], []
    for g in range(4):
        mx += [g + 1 + f_offsets[s] + j for j in f_jit[s][g]]
        my += f_vals[s][g]
    fig.add_trace(go.Scatter(x=mx, y=my, xaxis=xa, yaxis=ya, mode="markers", hoverinfo="skip", showlegend=False, cliponaxis=False,
                             marker=dict(size=17, color=cond_colors[s], line=dict(color="black", width=2.5))))
for g, a, b_, yv, lab, lx, ly in f_sig:
    fig.add_trace(go.Scatter(x=[g + f_offsets[a], g + f_offsets[b_]], y=[yv, yv], xaxis=xa, yaxis=ya, mode="lines", line=dict(color="black", width=3),
                             cliponaxis=False, hoverinfo="skip", showlegend=False))
    lpx = F_L + (lx - F_X0) / (F_X1 - F_X0) * (F_R - F_L)
    lpy = F_B - ly / 12 * (F_B - F_T)
    if lab == "ns":
        ptext(lpx, lpy, lab, 24)
    else:
        ptext(lpx, lpy, lab, 30, yshift=-2)
ptext(899, 1484.5, "F", 33)
ptext(1298, 1501, "CAR T Expansion", 23)
ptext(1005.5, 1900.8, "Stimulation", 23)
ptext(953.7, 1713, "Fold Expansion", 22.5, angle=-90)
ptext(983.7, 1717, "After Each Stimulation", 22.5, angle=-90)
legend4(1045.6, 1066, 1303, 1324, 1959, 1988.6)

layout.update(width=W, height=H, margin=dict(l=0, r=0, t=0, b=0, pad=0, autoexpand=False), paper_bgcolor="white", plot_bgcolor="rgba(0,0,0,0)", showlegend=False,
              annotations=annotations, shapes=shapes, barmode="overlay")
fig.update_layout(**layout)
fig.write_html("out.html", post_script="document.body.style.margin='0';", config={"displayModeBar": False})
